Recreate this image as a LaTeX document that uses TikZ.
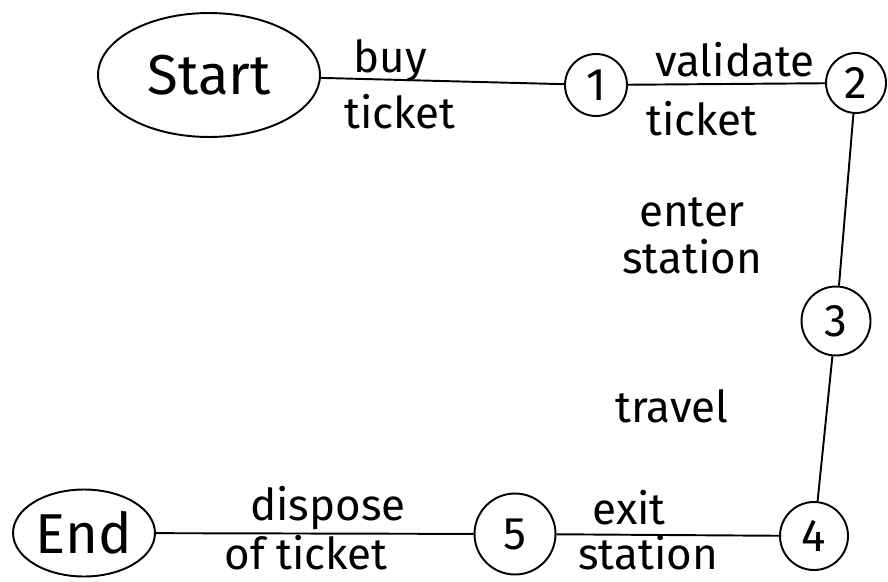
\documentclass[tikz,border=0pt]{standalone}
\usepackage{fontspec}
\setmainfont{Fira Sans}
\usepackage{tikz}
\usetikzlibrary{
  shapes.geometric,
  positioning
}

\begin{document}
\begin{tikzpicture}[
  x=0.02cm, y=-0.02cm,
  line width=1.1pt,
  terminal/.style={ellipse, draw, inner sep=0pt, font=\fontsize{32}{36}\selectfont},
  state/.style={circle, draw, inner sep=0pt, font=\fontsize{26}{30}\selectfont},
  action/.style={inner sep=0pt, align=center, font=\fontsize{25}{27}\selectfont},
  flow/.style={draw, line width=1.1pt}
]
  \useasboundingbox (0,0) rectangle (888,581);

  % start / end
  \node[terminal, minimum width=4.44cm, minimum height=2.48cm] (start) at (209,75) {Start};
  \node[terminal, minimum width=2.84cm, minimum height=1.74cm] (end) at (84,533) {End};

  % numbered states
  \node[state, minimum size=1.24cm] (s1) at (596,85) {1};
  \node[state, minimum size=1.2cm] (s2) at (856,83) {2};
  \node[state, minimum size=1.38cm] (s3) at (836,321) {3};
  \node[state, minimum size=1.36cm] (s4) at (814,536) {4};
  \node[state, minimum size=1.62cm] (s5) at (515,534) {5};

  % transitions
  \draw[flow] (start) -- (s1);
  \draw[flow] (s1) -- (s2);
  \draw[flow] (s2) -- (s3);
  \draw[flow] (s3) -- (s4);
  \draw[flow] (s4) -- (s5);
  \draw[flow] (s5) -- (end);

  % labels of the actions
  \node[action] (buy) at (390,61) {buy};
  \node[action] (buyticket) at (400,112) {ticket};
  \node[action] (validate) at (735,60) {validate};
  \node[action] (valticket) at (702,119) {ticket};
  \node[action] (enter) at (692,236) {enter\\station};
  \node[action] (travel) at (672,406) {travel};
  \node[action] (exit) at (629,508) {exit};
  \node[action] (exitstation) at (648,553) {station};
  \node[action] (dispose) at (328,508) {dispose};
  \node[action] (ofticket) at (306,553) {of ticket};
\end{tikzpicture}
\end{document}
